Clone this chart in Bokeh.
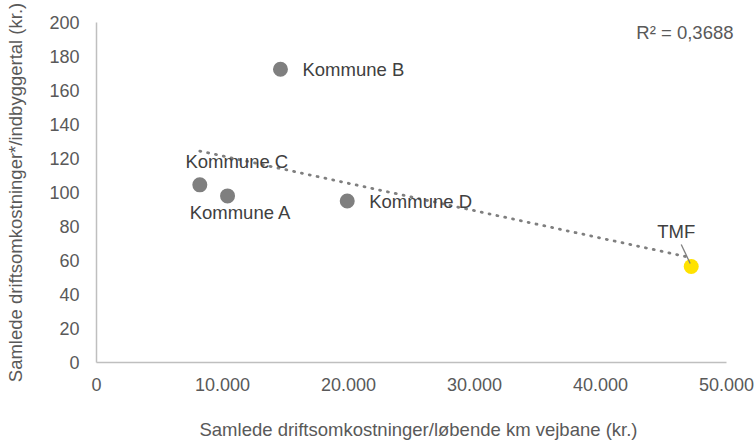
import numpy as np
from bokeh.plotting import figure
from bokeh.models import ColumnDataSource, Range1d, FixedTicker, Label, CustomJSTickFormatter
from bokeh.core.properties import value
from bokeh.embed import file_html
from bokeh.resources import INLINE

names = ["Kommune A", "Kommune B", "Kommune C", "Kommune D", "TMF"]
cost_per_km = [10400, 14600, 8200, 19900, 47200]
cost_per_inhab = [98, 172.5, 104.5, 95, 56.5]
colors = ["#7f7f7f", "#7f7f7f", "#7f7f7f", "#7f7f7f", "#ffe200"]
x_ticks = [0, 10000, 20000, 30000, 40000, 50000]
y_ticks = [0, 20, 40, 60, 80, 100, 120, 140, 160, 180, 200]
r2_text = "R² = 0,3688"
x_title = "Samlede driftsomkostninger/løbende km vejbane (kr.)"
y_title = "Samlede driftsomkostninger*/indbyggertal (kr.)"

X_MAX, Y_MAX = 50000, 200

# label placement (pixel offsets), styling only
lab_dx = [13, 22, 37, 22, -15]
lab_dy = [17, 0, -23, 0, -35]
lab_align = ["center", "left", "center", "left", "center"]

FONT = "Liberation Sans"
FS_TICK = "18px"
FS = "18.5px"
TICK_COL = "#595959"
LAB_COL = "#404040"

W, H = 756, 444
BL, BR, BT, BB = 96, 16, 22, 82
FW, FH = W - BL - BR, H - BT - BB
AXIS_W = 630  # pixel length of the 0..50000 axis
x_end = X_MAX * FW / AXIS_W

p = figure(width=W, height=H, output_backend="svg", toolbar_location=None,
           x_range=Range1d(0, x_end), y_range=Range1d(0, Y_MAX),
           min_border_left=BL, min_border_right=BR, min_border_top=BT, min_border_bottom=BB)
p.outline_line_color = None
p.xgrid.visible = False
p.ygrid.visible = False

for ax in (p.xaxis[0], p.yaxis[0]):
    ax.axis_line_color = "#bfbfbf"
    ax.axis_line_width = 1.5
    ax.major_tick_line_color = None
    ax.minor_tick_line_color = None
    ax.major_tick_out = 0
    ax.major_tick_in = 0
    ax.major_label_text_font = FONT
    ax.major_label_text_font_size = FS_TICK
    ax.major_label_text_color = TICK_COL
    ax.axis_label_text_font = FONT
    ax.axis_label_text_font_size = FS
    ax.axis_label_text_color = TICK_COL
    ax.axis_label_text_font_style = "normal"

p.xaxis[0].bounds = (0, X_MAX)
p.xaxis[0].ticker = FixedTicker(ticks=x_ticks)
p.yaxis[0].ticker = FixedTicker(ticks=y_ticks)
p.xaxis[0].formatter = CustomJSTickFormatter(code="""
    const s = Math.round(tick).toString();
    return s.replace(/\\B(?=(\\d{3})+(?!\\d))/g, '.');
""")
p.xaxis[0].major_label_standoff = 15
p.yaxis[0].major_label_standoff = 17
p.xaxis[0].axis_label = x_title
p.yaxis[0].axis_label = y_title
p.xaxis[0].axis_label_standoff = 25
p.yaxis[0].axis_label_standoff = 20

# trendline (least squares from data)
xs = np.array(cost_per_km, dtype=float)
ys = np.array(cost_per_inhab, dtype=float)
b1, b0 = np.polyfit(xs, ys, 1)
tx = [xs.min(), xs.max()]
ty = [b0 + b1 * v for v in tx]
p.line(tx, ty, line_color="#7f7f7f", line_width=2.8, line_dash="1 7", line_cap="round")

src = ColumnDataSource(dict(x=cost_per_km, y=cost_per_inhab, c=colors, name=names,
                            dx=lab_dx, dy=lab_dy, al=lab_align))
p.scatter("x", "y", source=src, size=15, fill_color="c", line_color=None)

# TMF leader line: pixel offsets converted to data units
ux = X_MAX / AXIS_W
uy = Y_MAX / FH
tmx, tmy = cost_per_km[4], cost_per_inhab[4]
p.segment(x0=[tmx - 10 * ux], y0=[tmy + 22 * uy], x1=[tmx - 1 * ux], y1=[tmy + 3 * uy],
          line_color="#7f7f7f", line_width=1.3)

p.text("x", "y", text="name", source=src, x_offset="dx", y_offset="dy", text_align="al",
       text_baseline="middle", text_font=value(FONT), text_font_size=FS, text_color=LAB_COL)

r2 = Label(x=X_MAX, y=194, x_offset=7, text=r2_text,
           text_align="right", text_baseline="middle", text_font=FONT,
           text_font_size=FS, text_color=TICK_COL)
p.add_layout(r2)

open("out.html", "w").write(file_html(p, INLINE))
